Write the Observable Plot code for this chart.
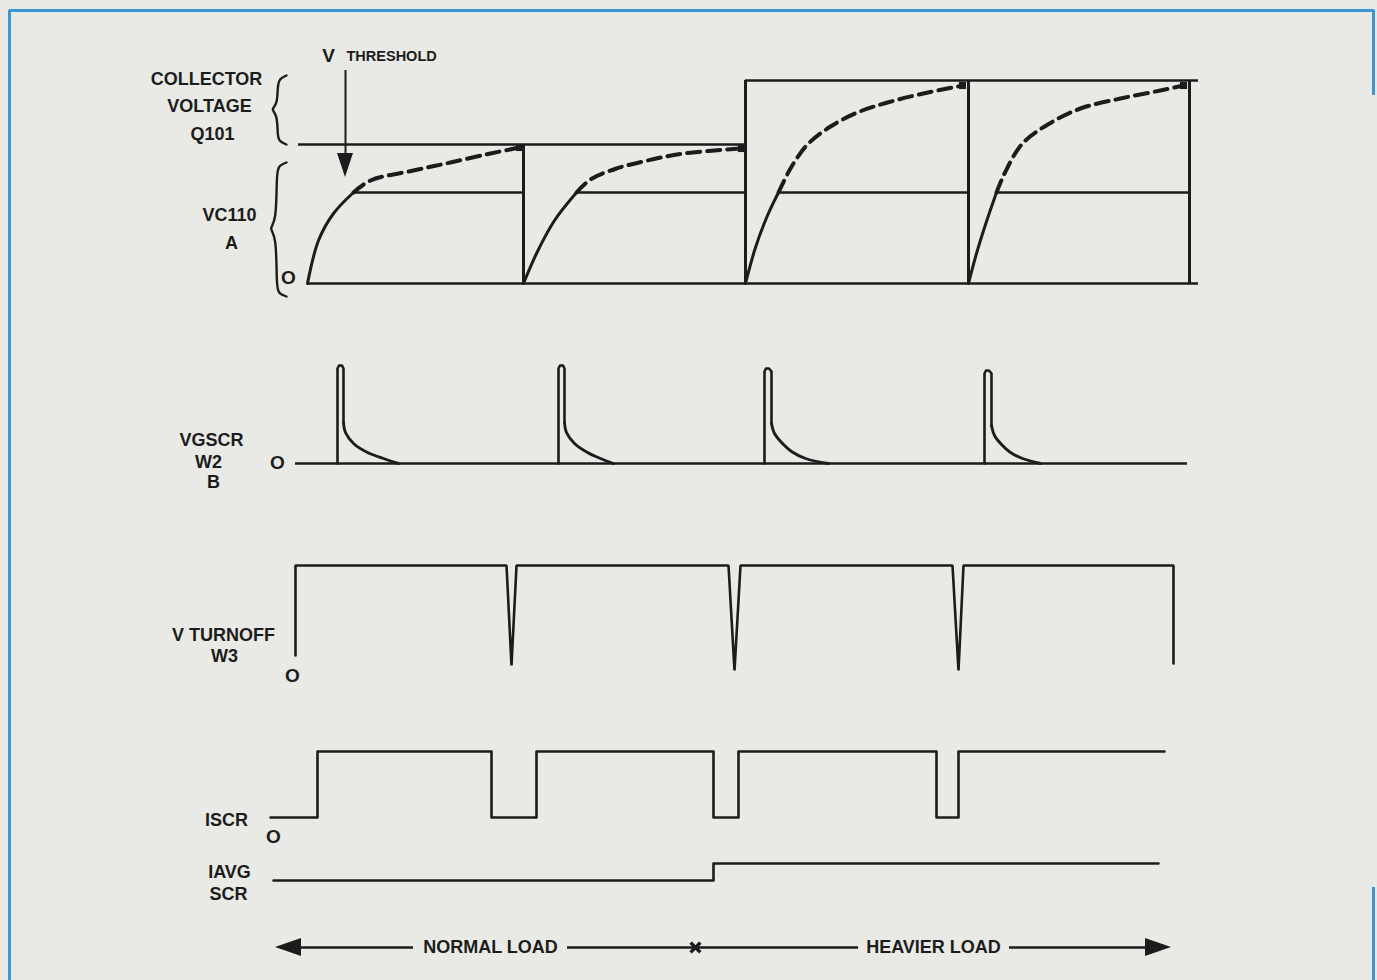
<!DOCTYPE html>
<html>
<head>
<meta charset="utf-8">
<script src="https://cdn.jsdelivr.net/npm/d3@7"></script>
<script src="https://cdn.jsdelivr.net/npm/@observablehq/plot@0.6"></script>
<style>
  html, body { margin: 0; padding: 0; background: #e9eae5; overflow: hidden; }
  #chart svg { display: block; }
</style>
</head>
<body>
<div id="chart"></div>
<script>
// ---------- DATA (time t, amplitude v above each trace's own zero line) ----------
const traceZero = { A: 283, B: 463, C: 655, D: 817, AVG: 880, LOAD: 947 };

// A: collector voltage Q101 / VC110 levels
const aLevels = { vccNormal: 139, vccHeavy: 203, threshold: 91 };
const aZeroSpan = [307, 1198];
const aVccNormalSpan = [298, 745];
const aVccHeavySpan = [745, 1198];
const aThresholdSpans = [[353, 523], [576, 745], [778, 968], [996, 1189]];
const aDischarges = [[523, 139], [745, 203], [968, 203], [1189, 203]]; // [t, top]
// solid charging part (up to threshold): [cycle, t, v]
const aChargeSolid = [
  [1, 307, 0], [1, 318, 43], [1, 333, 70], [1, 353, 91],
  [2, 523, 0], [2, 536, 30], [2, 554, 63], [2, 576, 91],
  [3, 745, 0], [3, 755, 36], [3, 767, 68], [3, 778, 91],
  [4, 968, 0], [4, 976, 30], [4, 986, 62], [4, 996, 91]
];
// dashed continuation above threshold: [cycle, t, v]
const aChargeDashed = [
  [1, 353, 91], [1, 370, 103], [1, 413, 113], [1, 450, 121], [1, 490, 130], [1, 519, 136],
  [2, 576, 91], [2, 590, 104], [2, 616, 115], [2, 647, 123], [2, 683, 130], [2, 741, 135],
  [3, 778, 91], [3, 790, 115], [3, 807, 139], [3, 830, 157], [3, 857, 171], [3, 887, 181], [3, 923, 190], [3, 962, 198],
  [4, 996, 91], [4, 1004, 110], [4, 1022, 140], [4, 1049, 160], [4, 1080, 175], [4, 1120, 185], [4, 1160, 193], [4, 1183, 198]
];

// B: VGSCR gate pulses W2
const bZeroSpan = [295, 1187];
// narrow pulse (up, cap, down to start of decay): [pulse, t, v]
const bPulse = [
  [1, 337, 0], [1, 337, 95], [1, 338.5, 98], [1, 341.5, 98], [1, 343, 95], [1, 343, 41],
  [2, 558, 0], [2, 558, 95], [2, 559.5, 98], [2, 562.5, 98], [2, 564, 95], [2, 564, 41],
  [3, 764, 0], [3, 764, 92], [3, 765.5, 95], [3, 768.5, 95], [3, 771, 92], [3, 771, 40],
  [4, 984, 0], [4, 984, 90], [4, 985.5, 93], [4, 988.5, 93], [4, 991, 90], [4, 991, 38]
];
const bDecay = [
  [1, 343, 41], [1, 345, 31], [1, 353, 20], [1, 367, 11], [1, 383, 5], [1, 398, 0],
  [2, 564, 41], [2, 566, 31], [2, 574, 20], [2, 587, 11], [2, 600, 5], [2, 613, 0],
  [3, 771, 40], [3, 774, 30], [3, 782, 20], [3, 791, 12], [3, 805, 5], [3, 828, 0],
  [4, 991, 38], [4, 994, 28], [4, 1001, 19], [4, 1010, 11], [4, 1022, 5], [4, 1040, 0]
];

// C: V turnoff W3
const cWave = [
  [295, 0], [295, 90], [506, 90], [511, -10], [516, 90],
  [728, 90], [734, -15], [740, 90],
  [952, 90], [958, -15], [963, 90],
  [1173, 90], [1173, -8]
];

// D: ISCR and IAVG SCR
const dIscr = [
  [270, 0], [317, 0], [317, 66], [491, 66], [491, 0], [536, 0], [536, 66],
  [713, 66], [713, 0], [738, 0], [738, 66], [936, 66], [936, 0], [958, 0], [958, 66], [1164, 66]
];
const dIavg = [[273, 0], [713, 0], [713, 17], [1158, 17]];

// load axis at the bottom
const loadLineSpans = [[290, 413], [567, 858], [1009, 1156]];
const loadMarker = 695;
const loadArrowLeft = [[275, 0], [301, 9]];   // [t, half width]
const loadArrowRight = [[1171, 0], [1145, 9]];

// threshold arrow (annotation)
const thrArrowShaft = { t: 345, from: 70, to: 156 };
const thrArrowHead = [[153, 8], [177, 0]]; // [row, half width]

// braces: [brace, t, row]
const braces = [
  [1, 286, 75], [1, 279, 78], [1, 277, 86], [1, 277, 104], [1, 270, 109], [1, 277, 114], [1, 277, 136], [1, 279, 141], [1, 286, 144],
  [2, 286, 162], [2, 278, 165], [2, 276, 174], [2, 276, 222], [2, 268, 228], [2, 276, 234], [2, 276, 286], [2, 278, 293], [2, 286, 296]
];

// text labels: [text, t, row, size]
const labelsCentered = [
  ["V", 328, 55, 19],
  ["COLLECTOR", 206, 79, 18],
  ["VOLTAGE", 209, 106, 18],
  ["Q101", 212, 134, 18],
  ["VC110", 229, 215, 18],
  ["A", 231, 243, 18],
  ["O", 288, 277, 19],
  ["VGSCR", 211, 440, 18],
  ["W2", 208, 462, 18],
  ["B", 213, 482, 18],
  ["O", 277, 462, 19],
  ["V TURNOFF", 223, 635, 18],
  ["W3", 224, 656, 18],
  ["O", 292, 675, 19],
  ["ISCR", 226, 820, 18],
  ["O", 273, 836, 19],
  ["IAVG", 229, 872, 18],
  ["SCR", 228, 894, 18],
  ["NORMAL LOAD", 490, 947, 18],
  ["HEAVIER LOAD", 933, 947, 18]
];
const labelsLeft = [
  ["THRESHOLD", 346, 56, 14.5]
];

// frame edges of the page box
const frameVertical = [[9, 10, 980], [1373, 10, 95], [1373, 887, 980]];
const frameHorizontal = [[10, 9, 1374]];

// ---------- BUILD ----------
const ink = "#1c1c1c";
const sw = 2.6;
const toPts = (arr, trace) => arr.map(([g, t, v]) => ({ g, t, y: traceZero[trace] - v }));
const toPts2 = (arr, trace) => arr.map(([t, v]) => ({ t, y: traceZero[trace] - v }));

const solidA = toPts(aChargeSolid, "A");
const dashedA = toPts(aChargeDashed, "A");
const dashEnds = d3.groups(dashedA, d => d.g).map(([, pts]) => pts[pts.length - 1]);

const hSegs = [
  { x1: aZeroSpan[0], x2: aZeroSpan[1], y: traceZero.A },
  { x1: aVccNormalSpan[0], x2: aVccNormalSpan[1], y: traceZero.A - aLevels.vccNormal },
  { x1: aVccHeavySpan[0], x2: aVccHeavySpan[1], y: traceZero.A - aLevels.vccHeavy },
  ...aThresholdSpans.map(([a, b]) => ({ x1: a, x2: b, y: traceZero.A - aLevels.threshold })),
  { x1: bZeroSpan[0], x2: bZeroSpan[1], y: traceZero.B },
  ...loadLineSpans.map(([a, b]) => ({ x1: a, x2: b, y: traceZero.LOAD }))
];
const vSegs = aDischarges.map(([t, top]) => ({ x: t, y1: traceZero.A, y2: traceZero.A - top }));

const textOpts = {
  text: d => d[0], x: d => d[1], y: d => d[2], fontSize: d => d[3],
  fontFamily: "Liberation Sans, Arial, sans-serif", fontWeight: "bold", fill: ink, lineAnchor: "middle"
};

const chart = Plot.plot({
  width: 1377,
  height: 980,
  margin: 0,
  x: { domain: [0, 1377], range: [0, 1377], axis: null },
  y: { domain: [0, 980], range: [0, 980], axis: null },
  style: { background: "#e9eae5", overflow: "hidden" },
  marks: [
    // page frame
    Plot.ruleX(frameVertical, { x: d => d[0], y1: d => d[1], y2: d => d[2], stroke: "#3c97d8", strokeWidth: 3 }),
    Plot.ruleY(frameHorizontal, { y: d => d[0], x1: d => d[1], x2: d => d[2], stroke: "#3c97d8", strokeWidth: 3 }),

    // A
    Plot.ruleY(hSegs, { y: "y", x1: "x1", x2: "x2", stroke: ink, strokeWidth: sw }),
    Plot.ruleX(vSegs, { x: "x", y1: "y1", y2: "y2", stroke: ink, strokeWidth: sw + 0.4 }),
    Plot.line(solidA, { x: "t", y: "y", z: "g", curve: "catmull-rom", stroke: ink, strokeWidth: sw + 0.4 }),
    Plot.line(dashedA, { x: "t", y: "y", z: "g", curve: "catmull-rom", stroke: ink, strokeWidth: 4, strokeDasharray: "13,7" }),
    Plot.dot(dashEnds, { x: "t", y: "y", symbol: "square", r: 4, fill: ink }),

    // threshold arrow
    Plot.ruleX([thrArrowShaft], { x: "t", y1: "from", y2: "to", stroke: ink, strokeWidth: 2 }),
    Plot.areaX(thrArrowHead, { y: d => d[0], x1: d => thrArrowShaft.t - d[1], x2: d => thrArrowShaft.t + d[1], fill: ink }),

    // braces
    Plot.line(braces, { x: d => d[1], y: d => d[2], z: d => d[0], curve: "basis", stroke: ink, strokeWidth: 2.4 }),

    // B
    Plot.line(toPts(bPulse, "B"), { x: "t", y: "y", z: "g", stroke: ink, strokeWidth: sw, strokeLinejoin: "round" }),
    Plot.line(toPts(bDecay, "B"), { x: "t", y: "y", z: "g", curve: "catmull-rom", stroke: ink, strokeWidth: sw + 0.3 }),

    // C
    Plot.line(toPts2(cWave, "C"), { x: "t", y: "y", stroke: ink, strokeWidth: sw, strokeLinejoin: "miter" }),

    // D
    Plot.line(toPts2(dIscr, "D"), { x: "t", y: "y", stroke: ink, strokeWidth: sw }),
    Plot.line(toPts2(dIavg, "AVG"), { x: "t", y: "y", stroke: ink, strokeWidth: sw }),

    // load axis arrows
    Plot.areaY(loadArrowLeft, { x: d => d[0], y1: d => traceZero.LOAD - d[1], y2: d => traceZero.LOAD + d[1], fill: ink }),
    Plot.areaY(loadArrowRight, { x: d => d[0], y1: d => traceZero.LOAD - d[1], y2: d => traceZero.LOAD + d[1], fill: ink }),
    Plot.dot([loadMarker], { x: d => d, y: () => traceZero.LOAD, symbol: "times", r: 4.5, stroke: ink, strokeWidth: 3.5 }),

    // labels
    Plot.text(labelsCentered, { ...textOpts, textAnchor: "middle" }),
    Plot.text(labelsLeft, { ...textOpts, textAnchor: "start" })
  ]
});
document.getElementById("chart").appendChild(chart);
</script>
</body>
</html>
